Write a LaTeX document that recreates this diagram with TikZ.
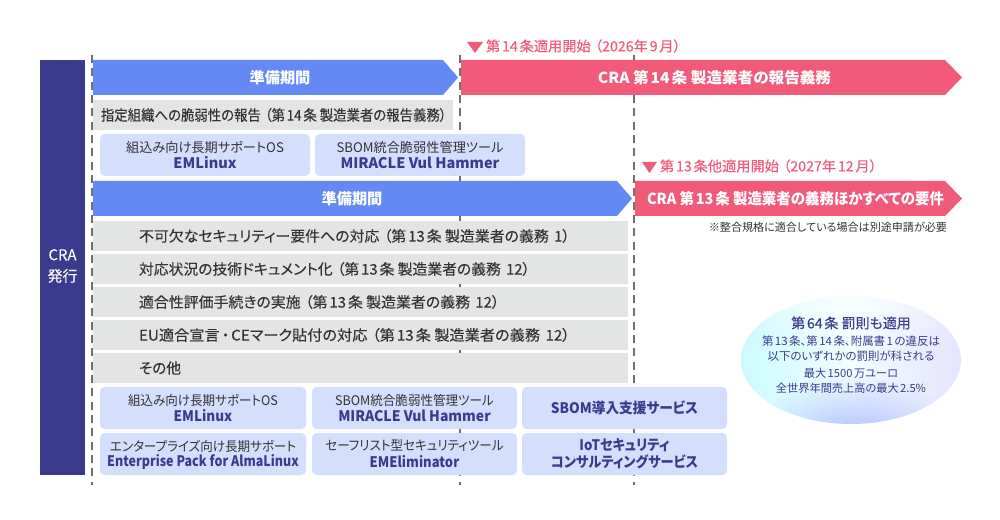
\documentclass[tikz,border=0pt]{standalone}
\usepackage{fontspec}
\setmainfont{Noto Sans CJK JP}[RawFeature={+palt}]
\newfontfamily\jpmed{Noto Sans CJK JP}[RawFeature={+palt},FakeBold=0.25]
\usetikzlibrary{fadings,shapes.geometric}
\definecolor{navy}{HTML}{3B3B8E}
\definecolor{bluearrow}{HTML}{638AF4}
\definecolor{redarrow}{HTML}{F25A7A}
\definecolor{grayrow}{HTML}{E3E5E4}
\definecolor{cardfill}{HTML}{D4DFFE}
\definecolor{ink}{HTML}{333333}
\definecolor{dashgray}{HTML}{707070}
\definecolor{ellcyan}{HTML}{CBFBFF}
\definecolor{elllav}{HTML}{E6E4FF}
\definecolor{ellblue}{HTML}{A3B6FF}
\newcommand{\fs}[2]{\fontsize{#1}{#2}\selectfont}
\newcommand{\kn}{\hspace{0.13em}}
\newcommand{\op}{\hspace{0.3em}}
\newcommand{\sx}[2]{\scalebox{#1}[1]{#2}}
\tikzfading[name=bluespot, inner color=transparent!0, outer color=transparent!100]
\tikzset{
  x=0.75pt,y=-0.75pt,
  base/.style={inner sep=0pt,outer sep=0pt,anchor=center,align=center},
  bartext/.style={base,text=white,font=\bfseries\fs{11.4}{14}},
  sidetext/.style={base,text=white,font=\jpmed\fs{11.2}{16}},
  rowtext/.style={base,anchor=west,text=ink,font=\jpmed\fs{11}{13}},
  cardtop/.style={base,text=ink,font=\fs{9.9}{12}},
  cardmain/.style={base,text=navy,font=\bfseries\fs{10.9}{13}},
  datetext/.style={base,anchor=west,text=redarrow,font=\jpmed\fs{10.5}{13}},
  dashline/.style={draw=dashgray,line width=1.4pt,dash pattern=on 6pt off 4pt},
  rowfill/.style={fill=grayrow,draw=none},
  cardbox/.style={fill=cardfill,draw=none,rounded corners=3.5pt},
  blueshape/.style={fill=bluearrow,draw=none},
  redshape/.style={fill=redarrow,draw=none},
}
\begin{document}
\begin{tikzpicture}
\useasboundingbox (0,0) rectangle (1000,520);
\fill[white] (0,0) rectangle (1000,520);
% dashed guides
\coordinate (d1a) at (92,55);\coordinate (d1b) at (92,485);
\coordinate (d2a) at (460,55);\coordinate (d2b) at (460,485);
\coordinate (d3a) at (634,55);\coordinate (d3b) at (634,485);
\draw[dashline] (d1a)--(d1b);
\draw[dashline] (d2a)--(d2b);
\draw[dashline] (d3a)--(d3b);
% navy bar
\fill[navy] (40,60) rectangle (85,475);
\node[sidetext] (cra) at (62.5,266) {CRA\\発行};
% arrows
\fill[blueshape] (93,60)--(443,60)--(458,77.5)--(443,95)--(93,95)--cycle;
\node[bartext] (p1) at (280,78) {準備期間};
\fill[redshape] (461,60)--(945,60)--(962,77.5)--(945,95)--(461,95)--cycle;
\node[bartext] (r1) at (714.5,78) {\sx{1.026}{CRA 第\kn{}14\kn{}条 製造業者の報告義務}};
\fill[blueshape] (93,181)--(617,181)--(632,198.5)--(617,216)--(93,216)--cycle;
\node[bartext] (p2) at (352,199) {準備期間};
\fill[redshape] (635,181)--(945,181)--(962,198.5)--(945,216)--(635,216)--cycle;
\node[bartext] (r2) at (795.5,199) {\sx{0.95}{CRA 第\kn{}13\kn{}条 製造業者の義務ほかすべての要件}};
% date labels
\fill[redarrow] (467,42)--(483,42)--(475,53)--cycle;
\node[datetext] (t14) at (486,46) {\sx{1.015}{第\kn{}14\kn{}条適用開始\op{}（2026年\kn{}9\kn{}月）}};
\fill[redarrow] (642,162)--(657,162)--(649.5,173)--cycle;
\node[datetext] (t13) at (660,166) {\sx{1.015}{第\kn{}13\kn{}条他適用開始\op{}（2027年\kn{}12\kn{}月）}};
\node[base,anchor=east,text=ink,font=\fs{8.3}{10}] (note) at (947,227) {※整合規格に適合している場合は別途申請が必要};
% gray rows
\fill[rowfill] (93,100) rectangle (453,130);
\node[rowtext] (g0) at (101,115) {\sx{0.913}{指定組織への脆弱性の報告\op{}（第\kn{}14\kn{}条 製造業者の報告義務）}};
\fill[rowfill] (93,221) rectangle (628,251);
\node[rowtext] (g1) at (139,236) {\sx{1.017}{不可欠なセキュリティー要件への対応\op{}（第\kn{}13\kn{}条 製造業者の義務\kn{} 1）}};
\fill[rowfill] (93,254) rectangle (628,284);
\node[rowtext] (g2) at (139,269) {\sx{1.01}{対応状況の技術ドキュメント化\op{}（第\kn{}13\kn{}条 製造業者の義務\kn{} 12）}};
\fill[rowfill] (93,287) rectangle (628,317);
\node[rowtext] (g3) at (139,302) {\sx{1.017}{適合性評価手続きの実施\op{}（第\kn{}13\kn{}条 製造業者の義務\kn{} 12）}};
\fill[rowfill] (93,320) rectangle (628,350);
\node[rowtext] (g4) at (139,335) {\sx{1.036}{EU適合宣言\kn{}・\kn{}CEマーク貼付の対応\op{}（第\kn{}13\kn{}条 製造業者の義務\kn{} 12）}};
\fill[rowfill] (93,353) rectangle (628,383);
\node[rowtext] (g5) at (139,368) {その他};
% cards row 1
\fill[cardbox] (100,134) rectangle (310,176);
\node[cardtop] (a1) at (205,147) {組込み向け長期サポートOS};
\node[cardmain] (a2) at (205,163) {EMLinux};
\fill[cardbox] (315,134) rectangle (525,176);
\node[cardtop] (b1) at (420,147) {SBOM統合脆弱性管理ツール};
\node[cardmain] (b2) at (420,163) {MIRACLE Vul Hammer};
% cards lower
\fill[cardbox] (100,387) rectangle (306,429);
\node[cardtop] (c1) at (203,400) {\sx{0.95}{組込み向け長期サポートOS}};
\node[cardmain] (c2) at (203,416) {\sx{0.93}{EMLinux}};
\fill[cardbox] (312,387) rectangle (517,429);
\node[cardtop] (c3) at (414.5,400) {\sx{0.95}{SBOM統合脆弱性管理ツール}};
\node[cardmain] (c4) at (414.5,416) {\sx{0.96}{MIRACLE Vul Hammer}};
\fill[cardbox] (522,387) rectangle (727,429);
\node[cardmain] (c5) at (624.5,408) {\sx{0.94}{SBOM導入支援サービス}};
\fill[cardbox] (100,433) rectangle (306,475);
\node[cardtop] (e1) at (203,446) {\sx{0.95}{エンタープライズ向け長期サポート}};
\node[cardmain] (e2) at (203,462) {\sx{0.86}{Enterprise Pack for AlmaLinux}};
\fill[cardbox] (312,433) rectangle (517,475);
\node[cardtop] (e3) at (414.5,446) {\sx{0.95}{セーフリスト型セキュリティツール}};
\node[cardmain] (e4) at (414.5,462) {\sx{0.9}{EMEliminator}};
\fill[cardbox] (522,433) rectangle (727,475);
\node[cardmain] (e5) at (624.5,454) {\sx{0.91}{IoTセキュリティ}\\\sx{0.91}{コンサルティングサービス}};
% ellipse
\begin{scope}
\clip (851,360) ellipse [x radius=110,y radius=64];
\shade[left color=ellcyan,right color=elllav,middle color=ellcyan!25!white] (741,296) rectangle (961,424);
\fill[white,opacity=.8,path fading=bluespot] (850,270) ellipse [x radius=130,y radius=90];
\fill[ellblue,opacity=.95,path fading=bluespot] (855,445) ellipse [x radius=105,y radius=72];
\end{scope}
\node[base,text=navy,font=\jpmed\fs{10.5}{12}] (l0) at (851,323) {第\kn{}64\kn{}条 罰則も適用};
\node[base,text=navy,font=\fs{8.6}{11.2}] (l1) at (851,349) {第\kn{}13\kn{}条、第\kn{}14\kn{}条、附属書\kn{}1\kn{}の違反は\\以下のいずれかの罰則が科される};
\node[base,text=navy,font=\fs{8.4}{11.2}] (l2) at (851,381) {最大\kn{}1500\kn{}万ユーロ\\全世界年間売上高の最大\kn{}2.5\%};
\end{tikzpicture}
\end{document}
